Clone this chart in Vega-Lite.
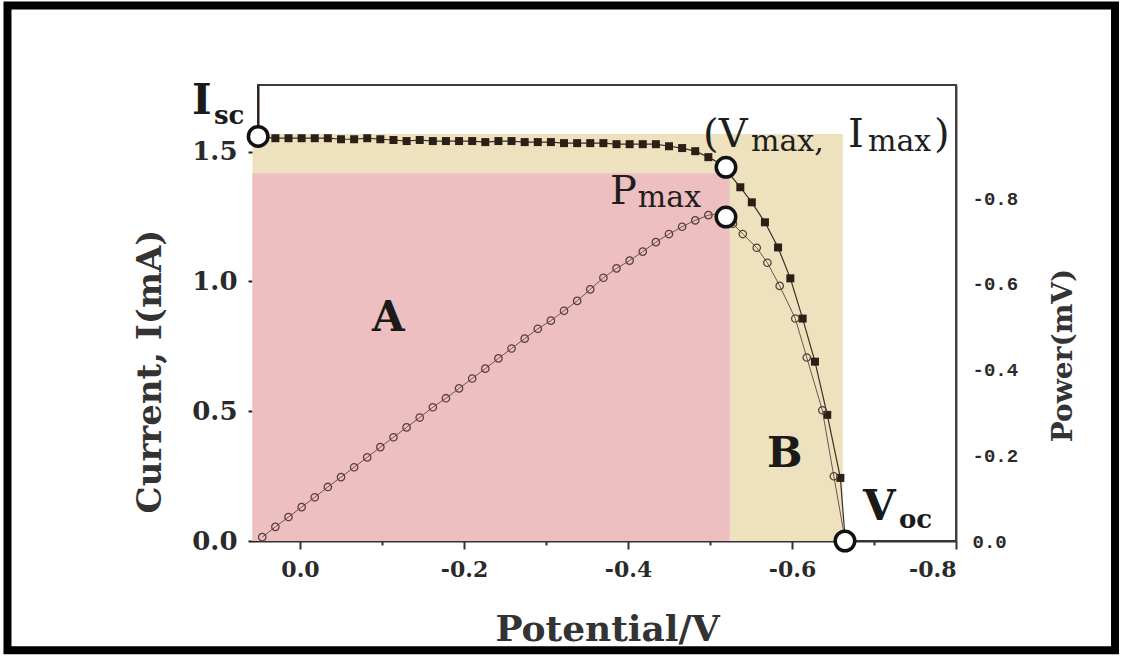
{
  "$schema": "https://vega.github.io/schema/vega-lite/v6.json",
  "width": 698,
  "height": 456,
  "autosize": {"type": "none"},
  "padding": {"left": 258, "top": 85, "right": 167, "bottom": 115},
  "background": "white",
  "config": {
    "view": {"stroke": "#3c3c3c", "strokeWidth": 2},
    "axis": {"grid": false}
  },
  "datasets": {
    "regions": [
      {"region": "B", "v1": 0.058, "v2": -0.662, "i1": 0, "i2": 1.568},
      {"region": "A", "v1": 0.058, "v2": -0.524, "i1": 0, "i2": 1.417}
    ],
    "current": [
      {"v": 0.046, "I": 1.556}, {"v": 0.030, "I": 1.552}, {"v": 0.014, "I": 1.552}, {"v": -0.002, "I": 1.552},
      {"v": -0.018, "I": 1.552}, {"v": -0.034, "I": 1.552}, {"v": -0.050, "I": 1.548}, {"v": -0.066, "I": 1.548},
      {"v": -0.082, "I": 1.552}, {"v": -0.098, "I": 1.548}, {"v": -0.114, "I": 1.545}, {"v": -0.130, "I": 1.541},
      {"v": -0.146, "I": 1.545}, {"v": -0.162, "I": 1.541}, {"v": -0.178, "I": 1.541}, {"v": -0.194, "I": 1.541},
      {"v": -0.210, "I": 1.541}, {"v": -0.226, "I": 1.537}, {"v": -0.242, "I": 1.541}, {"v": -0.258, "I": 1.541},
      {"v": -0.274, "I": 1.537}, {"v": -0.290, "I": 1.537}, {"v": -0.306, "I": 1.537}, {"v": -0.322, "I": 1.533},
      {"v": -0.338, "I": 1.533}, {"v": -0.354, "I": 1.533}, {"v": -0.370, "I": 1.533}, {"v": -0.386, "I": 1.529},
      {"v": -0.402, "I": 1.529}, {"v": -0.418, "I": 1.529}, {"v": -0.434, "I": 1.529}, {"v": -0.450, "I": 1.521},
      {"v": -0.466, "I": 1.514}, {"v": -0.482, "I": 1.502}, {"v": -0.498, "I": 1.479}, {"v": -0.514, "I": 1.452},
      {"v": -0.537, "I": 1.363}, {"v": -0.551, "I": 1.305}, {"v": -0.567, "I": 1.228}, {"v": -0.583, "I": 1.131},
      {"v": -0.598, "I": 1.012}, {"v": -0.613, "I": 0.857}, {"v": -0.628, "I": 0.691}, {"v": -0.643, "I": 0.486},
      {"v": -0.659, "I": 0.243}, {"v": -0.665, "I": 0.0}
    ],
    "power": [
      {"v": 0.046, "P": -0.009}, {"v": 0.030, "P": -0.033}, {"v": 0.014, "P": -0.056}, {"v": -0.002, "P": -0.079},
      {"v": -0.018, "P": -0.102}, {"v": -0.034, "P": -0.126}, {"v": -0.050, "P": -0.149}, {"v": -0.066, "P": -0.172},
      {"v": -0.082, "P": -0.195}, {"v": -0.098, "P": -0.219}, {"v": -0.114, "P": -0.242}, {"v": -0.130, "P": -0.265},
      {"v": -0.146, "P": -0.288}, {"v": -0.162, "P": -0.312}, {"v": -0.178, "P": -0.333}, {"v": -0.194, "P": -0.356},
      {"v": -0.210, "P": -0.379}, {"v": -0.226, "P": -0.402}, {"v": -0.242, "P": -0.426}, {"v": -0.258, "P": -0.449},
      {"v": -0.274, "P": -0.472}, {"v": -0.290, "P": -0.495}, {"v": -0.306, "P": -0.514}, {"v": -0.322, "P": -0.537},
      {"v": -0.338, "P": -0.560}, {"v": -0.354, "P": -0.587}, {"v": -0.370, "P": -0.614}, {"v": -0.386, "P": -0.636},
      {"v": -0.402, "P": -0.654}, {"v": -0.418, "P": -0.675}, {"v": -0.434, "P": -0.697}, {"v": -0.450, "P": -0.716},
      {"v": -0.466, "P": -0.733}, {"v": -0.482, "P": -0.748}, {"v": -0.498, "P": -0.760}, {"v": -0.514, "P": -0.765},
      {"v": -0.528, "P": -0.740}, {"v": -0.540, "P": -0.716}, {"v": -0.557, "P": -0.684}, {"v": -0.570, "P": -0.649},
      {"v": -0.585, "P": -0.595}, {"v": -0.604, "P": -0.519}, {"v": -0.618, "P": -0.428}, {"v": -0.637, "P": -0.305},
      {"v": -0.651, "P": -0.151}, {"v": -0.665, "P": 0.0}
    ],
    "keypoints": [
      {"name": "Isc", "v": 0.051, "I": 1.559},
      {"name": "Vmax,Imax", "v": -0.5195, "I": 1.440},
      {"name": "Voc", "v": -0.6646, "I": 0.0}
    ],
    "pmax": [
      {"name": "Pmax", "v": -0.5195, "P": -0.7557}
    ],
    "labels": [
      {"group": "big", "text": "(V", "v": -0.4915, "I": 1.5174},
      {"group": "big", "text": "I", "v": -0.6683, "I": 1.5174},
      {"group": "big", "text": ")", "v": -0.7732, "I": 1.5174},
      {"group": "big", "text": "P", "v": -0.378, "I": 1.297},
      {"group": "sub", "text": "max,", "v": -0.55, "I": 1.502},
      {"group": "sub", "text": "max", "v": -0.6927, "I": 1.502},
      {"group": "sub", "text": "max", "v": -0.412, "I": 1.286},
      {"group": "bigbold", "text": "I", "v": 0.1317, "I": 1.645},
      {"group": "bigbold", "text": "V", "v": -0.6866, "I": 0.0811},
      {"group": "bigbold", "text": "A", "v": -0.0878, "I": 0.811},
      {"group": "bigbold", "text": "B", "v": -0.5695, "I": 0.2857},
      {"group": "subbold", "text": "sc", "v": 0.1049, "I": 1.606},
      {"group": "subbold", "text": "oc", "v": -0.7305, "I": 0.050}
    ]
  },
  "layer": [
    {
      "layer": [
        {
          "data": {"name": "regions"},
          "mark": {"type": "rect"},
          "encoding": {
            "x": {
              "field": "v1", "type": "quantitative",
              "scale": {"domain": [-0.8, 0.0512], "reverse": true, "nice": false, "zero": false},
              "axis": {
                "title": "Potential/V",
                "values": [0, -0.1, -0.2, -0.3, -0.4, -0.5, -0.6, -0.7, -0.8],
                "labelExpr": "round(abs(datum.value)*10) % 2 === 0 ? (datum.value < -0.001 ? '-' : '') + format(abs(datum.value), '.1f') : ''",
                "tickSize": {"condition": {"test": "round(abs(datum.value)*10) % 2 === 0", "value": 8}, "value": 4},
                "labelFont": "DejaVu Serif", "labelFontWeight": "bold", "labelFontSize": 22, "labelColor": "#2a2a2a", "labelPadding": 10,
                "domainColor": "#333333", "domainWidth": 2, "tickColor": "#333333", "tickWidth": 2,
                "titleFont": "DejaVu Serif", "titleFontSize": 36, "titleFontWeight": "bold", "titleColor": "#333333",
                "titleY": 99, "titleBaseline": "alphabetic"
              }
            },
            "x2": {"field": "v2"},
            "y": {
              "field": "i1", "type": "quantitative",
              "scale": {"domain": [0, 1.757], "nice": false, "zero": false},
              "axis": {
                "title": "Current, I(mA)",
                "orient": "left",
                "values": [0, 0.25, 0.5, 0.75, 1.0, 1.25, 1.5],
                "labelExpr": "round(datum.value*100) % 50 === 0 ? format(datum.value, '.1f') : ''",
                "tickSize": {"condition": {"test": "round(datum.value*100) % 50 === 0", "value": 10}, "value": 5},
                "labelFont": "DejaVu Serif", "labelFontWeight": "bold", "labelFontSize": 26, "labelColor": "#2a2a2a", "labelPadding": 11,
                "domainColor": "#2b1d16", "domainWidth": 2, "tickColor": "#2b1d16", "tickWidth": 2,
                "titleFont": "DejaVu Serif", "titleFontSize": 34, "titleFontWeight": "bold", "titleColor": "#333333",
                "titleX": -108, "titleY": 286, "titleBaseline": "middle", "titleAngle": 270, "titleAlign": "center"
              }
            },
            "y2": {"field": "i2"},
            "color": {
              "field": "region", "type": "nominal",
              "scale": {"domain": ["A", "B"], "range": ["#EEBFC1", "#EEE2BE"]},
              "legend": null
            }
          }
        },
        {
          "data": {"name": "current"},
          "mark": {"type": "line", "color": "#3a2e26", "strokeWidth": 1.2},
          "encoding": {
            "x": {"field": "v", "type": "quantitative", "scale": {"domain": [-0.8, 0.0512], "reverse": true, "nice": false, "zero": false}},
            "y": {"field": "I", "type": "quantitative", "scale": {"domain": [0, 1.757], "nice": false, "zero": false}}
          }
        },
        {
          "data": {"name": "current"},
          "mark": {"type": "point", "shape": "square", "filled": true, "size": 64, "color": "#2a2018", "opacity": 1},
          "encoding": {
            "x": {"field": "v", "type": "quantitative", "scale": {"domain": [-0.8, 0.0512], "reverse": true, "nice": false, "zero": false}},
            "y": {"field": "I", "type": "quantitative", "scale": {"domain": [0, 1.757], "nice": false, "zero": false}}
          }
        },
        {
          "data": {"name": "labels"},
          "transform": [{"filter": "datum.group === 'big'"}],
          "mark": {"type": "text", "font": "DejaVu Serif", "fontSize": 40, "align": "left", "baseline": "alphabetic", "color": "#1e1e1e"},
          "encoding": {
            "x": {"field": "v", "type": "quantitative", "scale": {"domain": [-0.8, 0.0512], "reverse": true, "nice": false, "zero": false}},
            "y": {"field": "I", "type": "quantitative", "scale": {"domain": [0, 1.757], "nice": false, "zero": false}},
            "text": {"field": "text"}
          }
        },
        {
          "data": {"name": "labels"},
          "transform": [{"filter": "datum.group === 'sub'"}],
          "mark": {"type": "text", "font": "DejaVu Serif", "fontSize": 30, "align": "left", "baseline": "alphabetic", "color": "#1e1e1e"},
          "encoding": {
            "x": {"field": "v", "type": "quantitative", "scale": {"domain": [-0.8, 0.0512], "reverse": true, "nice": false, "zero": false}},
            "y": {"field": "I", "type": "quantitative", "scale": {"domain": [0, 1.757], "nice": false, "zero": false}},
            "text": {"field": "text"}
          }
        },
        {
          "data": {"name": "labels"},
          "transform": [{"filter": "datum.group === 'bigbold'"}],
          "mark": {"type": "text", "font": "DejaVu Serif", "fontWeight": "bold", "fontSize": 42, "align": "left", "baseline": "alphabetic", "color": "#1a1a1a"},
          "encoding": {
            "x": {"field": "v", "type": "quantitative", "scale": {"domain": [-0.8, 0.0512], "reverse": true, "nice": false, "zero": false}},
            "y": {"field": "I", "type": "quantitative", "scale": {"domain": [0, 1.757], "nice": false, "zero": false}},
            "text": {"field": "text"}
          }
        },
        {
          "data": {"name": "labels"},
          "transform": [{"filter": "datum.group === 'subbold'"}],
          "mark": {"type": "text", "font": "DejaVu Serif", "fontWeight": "bold", "fontSize": 26, "align": "left", "baseline": "alphabetic", "color": "#1a1a1a"},
          "encoding": {
            "x": {"field": "v", "type": "quantitative", "scale": {"domain": [-0.8, 0.0512], "reverse": true, "nice": false, "zero": false}},
            "y": {"field": "I", "type": "quantitative", "scale": {"domain": [0, 1.757], "nice": false, "zero": false}},
            "text": {"field": "text"}
          }
        },
        {
          "data": {"values": [{}]},
          "mark": {"type": "rect", "filled": false, "stroke": "#000000", "strokeWidth": 8},
          "encoding": {
            "x": {"datum": 0.3567, "type": "quantitative", "scale": {"domain": [-0.8, 0.0512], "reverse": true, "nice": false, "zero": false}},
            "x2": {"datum": -0.9939},
            "y": {"datum": 2.0637, "type": "quantitative", "scale": {"domain": [0, 1.757], "nice": false, "zero": false}},
            "y2": {"datum": -0.4208}
          }
        }
      ]
    },
    {
      "layer": [
        {
          "data": {"name": "power"},
          "mark": {"type": "line", "color": "#6a5650", "strokeWidth": 1},
          "encoding": {
            "x": {"field": "v", "type": "quantitative", "scale": {"domain": [-0.8, 0.0512], "reverse": true, "nice": false, "zero": false}},
            "y": {
              "field": "P", "type": "quantitative",
              "scale": {"domain": [-1.0636, 0], "reverse": true, "nice": false, "zero": false},
              "axis": {
                "orient": "right",
                "title": "Power(mV)",
                "values": [0, -0.2, -0.4, -0.6, -0.8],
                "labelExpr": "(datum.value < -0.001 ? '-' : '') + format(abs(datum.value), '.1f')",
                "ticks": false,
                "labelPadding": 16,
                "labelFont": "Liberation Mono", "labelFontWeight": "bold", "labelFontSize": 19, "labelColor": "#2a2a2a",
                "domainColor": "#444444", "domainWidth": 2,
                "titleFont": "DejaVu Serif", "titleFontWeight": "bold", "titleFontSize": 28, "titleColor": "#333333",
                "titleAngle": 270, "titleX": 107, "titleY": 270, "titleBaseline": "middle", "titleAlign": "center"
              }
            }
          }
        },
        {
          "data": {"name": "power"},
          "mark": {"type": "point", "shape": "circle", "filled": false, "size": 55, "stroke": "#5b3f3a", "strokeWidth": 1.3, "opacity": 1},
          "encoding": {
            "x": {"field": "v", "type": "quantitative", "scale": {"domain": [-0.8, 0.0512], "reverse": true, "nice": false, "zero": false}},
            "y": {"field": "P", "type": "quantitative", "scale": {"domain": [-1.0636, 0], "reverse": true, "nice": false, "zero": false}}
          }
        },
        {
          "data": {"name": "pmax"},
          "mark": {"type": "point", "shape": "circle", "filled": true, "size": 380, "fill": "#ffffff", "stroke": "#111111", "strokeWidth": 3.5, "opacity": 1},
          "encoding": {
            "x": {"field": "v", "type": "quantitative", "scale": {"domain": [-0.8, 0.0512], "reverse": true, "nice": false, "zero": false}},
            "y": {"field": "P", "type": "quantitative", "scale": {"domain": [-1.0636, 0], "reverse": true, "nice": false, "zero": false}}
          }
        }
      ]
    },
    {
      "layer": [
        {
          "data": {"name": "keypoints"},
          "mark": {"type": "point", "shape": "circle", "filled": true, "size": 380, "fill": "#ffffff", "stroke": "#111111", "strokeWidth": 3.5, "opacity": 1},
          "encoding": {
            "x": {"field": "v", "type": "quantitative", "scale": {"domain": [-0.8, 0.0512], "reverse": true, "nice": false, "zero": false}},
            "y": {"field": "I", "type": "quantitative", "scale": {"domain": [0, 1.757], "nice": false, "zero": false}, "axis": {"orient": "left", "labels": false, "ticks": false, "domain": false, "title": null}}
          }
        }
      ]
    }
  ],
  "resolve": {"scale": {"y": "independent"}, "axis": {"y": "independent"}}
}
